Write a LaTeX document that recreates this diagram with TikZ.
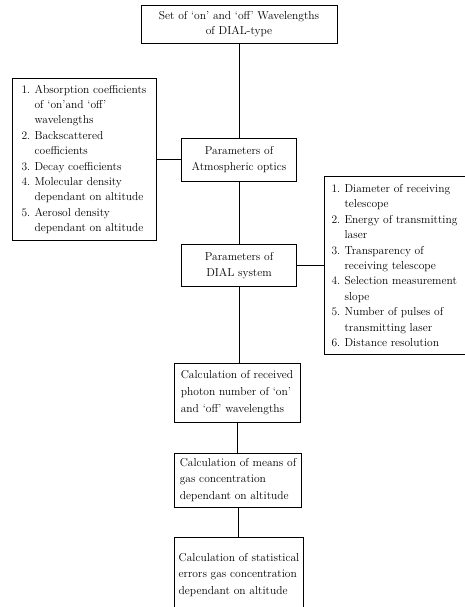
\documentclass[tikz,border=0pt]{standalone}
\usepackage{tikz}
\usetikzlibrary{positioning}
\tikzset{line width=1.4pt,
    block/.style={draw, inner sep=0pt, align=center,
        font=\fontsize{11.5}{15.4}\selectfont},
    listblock/.style={block, align=left},
    calcblock/.style={block, align=left,
        font=\fontsize{11.5}{16.8}\selectfont},
    link/.style={-}}
\newcommand{\lnum}[1]{\makebox[13pt][l]{#1}}
\newcommand{\lcont}{\hspace*{13pt}}

\begin{document}
\begin{tikzpicture}
[x=1pt,y=-1pt]
\useasboundingbox (0,0) rectangle (465,607);
\node[block, minimum width=196pt, minimum height=38pt] (top) at (239,24)
    {Set of `on' and `off' Wavelengths\\of DIAL-type};
\node[block, minimum width=115pt, minimum height=43pt] (atmos) at (239,159.5)
    {Parameters of\\Atmospheric optics};
\node[listblock, minimum width=144pt, minimum height=162pt] (optlist) at (84,159.5)
    {\lnum{1.}Absorption coefficients\\\lcont of `on'and `off'\\\lcont wavelengths\\
     \lnum{2.}Backscattered\\\lcont coefficients\\
     \lnum{3.}Decay coefficients\\
     \lnum{4.}Molecular density\\\lcont dependant on altitude\\
     \lnum{5.}Aerosol density\\\lcont dependant on altitude};
\node[block, minimum width=115pt, minimum height=42pt] (dial) at (239,265.5)
    {Parameters of\\DIAL system};
\node[listblock, minimum width=141pt, minimum height=178pt] (syslist) at (394.5,265.5)
    {\lnum{1.}Diameter of receiving\\\lcont telescope\\
     \lnum{2.}Energy of transmitting\\\lcont laser\\
     \lnum{3.}Transparency of\\\lcont receiving telescope\\
     \lnum{4.}Selection measurement\\\lcont slope\\
     \lnum{5.}Number of pulses of\\\lcont transmitting laser\\
     \lnum{6.}Distance resolution};
\node[calcblock, minimum width=126pt, minimum height=59pt] (photon) at (237,392.5)
    {Calculation of received\\photon number of `on'\\and `off' wavelengths};
\node[calcblock, minimum width=127pt, minimum height=54pt] (means) at (238,480)
    {Calculation of means of\\gas concentration\\dependant on altitude};
\node[calcblock, minimum width=129pt, minimum height=76pt] (errors) at (239,575)
    {Calculation of statistical\\errors gas concentration\\dependant on altitude};
\path[link]
    (top)    edge (atmos)
    (optlist) edge (atmos)
    (atmos)  edge (dial)
    (dial)   edge (syslist)
    (dial.south) edge (dial.south |- photon.north)
    (photon.south) edge (photon.south |- means.north)
    (means.south) edge (means.south |- errors.north);
\end{tikzpicture}
\end{document}
